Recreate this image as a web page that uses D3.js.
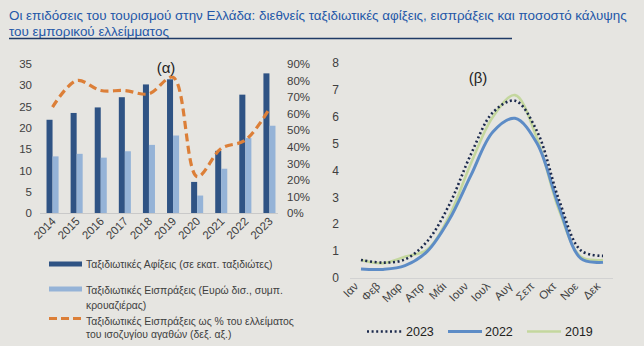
<!DOCTYPE html>
<html><head><meta charset="utf-8">
<script src="https://cdn.jsdelivr.net/npm/d3@7"></script>
<style>
html,body{margin:0;padding:0;background:#e6e5e1;}
svg{display:block;font-family:"Liberation Sans",Arial,sans-serif;}
</style></head>
<body>
<svg id="c" width="644" height="346"></svg>
<script>
// ---- Data ----
const years = ["2014","2015","2016","2017","2018","2019","2020","2021","2022","2023"];
const arrivals = [21.9, 23.5, 24.8, 27.2, 30.2, 31.4, 7.3, 14.6, 27.8, 32.8];
const receipts = [13.3, 13.9, 13.0, 14.5, 16.0, 18.2, 4.1, 10.4, 17.6, 20.5];
const coverage = [0.64, 0.80, 0.74, 0.74, 0.72, 0.82, 0.22, 0.39, 0.44, 0.63];
const leftTicks = [0,5,10,15,20,25,30,35];
const rightTicks = [0,0.1,0.2,0.3,0.4,0.5,0.6,0.7,0.8,0.9];

const months = ["Ιαν","Φεβ","Μαρ","Απρ","Μάι","Ιουν","Ιουλ","Αυγ","Σεπ","Οκτ","Νοε","Δεκ"];
const y2023 = [0.67, 0.57, 0.69, 1.35, 2.7, 4.6, 6.15, 6.58, 5.45, 2.9, 1.02, 0.82];
const y2022 = [0.33, 0.32, 0.46, 0.98, 2.15, 3.82, 5.43, 5.93, 5.0, 2.65, 0.72, 0.58];
const y2019 = [0.67, 0.55, 0.79, 1.05, 2.28, 4.26, 5.99, 6.79, 5.19, 2.52, 0.79, 0.67];
const monthTicks = [0,1,2,3,4,5,6,7,8];

const title1 = "Οι επιδόσεις του τουρισμού στην Ελλάδα: διεθνείς ταξιδιωτικές αφίξεις, εισπράξεις και ποσοστό κάλυψης";
const title2 = "του εμπορικού ελλείμματος";

// ---- Setup ----
const svg = d3.select("#c");
const C = {dark:"#2f5384", light:"#95b3d7", orange:"#dc7f38", text:"#404040",
           s23:"#1c2a4d", s22:"#5d8cc6", s19:"#c4d79e", title:"#2357a8"};

svg.append("rect").attr("width",644).attr("height",346).attr("fill","#e6e5e1");

// Title
svg.append("text").attr("x",9).attr("y",20).attr("fill",C.title).attr("font-size",13.4).text(title1);
svg.append("text").attr("x",9).attr("y",36).attr("fill",C.title).attr("font-size",13.4).text(title2);
svg.append("line").attr("x1",9).attr("x2",512).attr("y1",38.5).attr("y2",38.5)
  .attr("stroke","#1f3a66").attr("stroke-width",1.3);

// ---- Left chart ----
const xb = d3.scaleBand().domain(years).range([40.5,281.5]).paddingInner(0.5).paddingOuter(0.25);
const xs = d3.scaleBand().domain(["a","r"]).range([0,xb.bandwidth()]);
const yL = d3.scaleLinear().domain([0,35]).range([213,64]);
const yR = d3.scaleLinear().domain([0,0.9]).range([213,64]);

const L = svg.append("g");
L.append("line").attr("x1",40).attr("x2",278).attr("y1",yL(0)+0.5).attr("y2",yL(0)+0.5).attr("stroke","#c9c9c9");

L.selectAll(".ba").data(years).join("rect")
  .attr("x",d=>xb(d)+xs("a")).attr("width",xs.bandwidth())
  .attr("y",(d,i)=>yL(arrivals[i])).attr("height",(d,i)=>yL(0)-yL(arrivals[i])).attr("fill",C.dark);
L.selectAll(".br").data(years).join("rect")
  .attr("x",d=>xb(d)+xs("r")).attr("width",xs.bandwidth())
  .attr("y",(d,i)=>yL(receipts[i])).attr("height",(d,i)=>yL(0)-yL(receipts[i])).attr("fill",C.light);

const lineL = d3.line().x((d,i)=>xb(years[i])+xb.bandwidth()/2).y(d=>yR(d)).curve(d3.curveCatmullRom.alpha(0.5));
L.append("path").attr("d",lineL(coverage)).attr("fill","none").attr("stroke",C.orange)
  .attr("stroke-width",3.2).attr("stroke-dasharray","8,4.5");

// Left axis
const axL = L.append("g").attr("transform","translate(32,0)")
  .call(d3.axisLeft(yL).tickValues(leftTicks).tickSize(0).tickPadding(0));
axL.select(".domain").remove();
axL.selectAll("text").attr("font-size",11.5).attr("fill",C.text).attr("font-family","Liberation Sans, Arial, sans-serif");
// Right axis
const axR = L.append("g").attr("transform","translate(287,0)")
  .call(d3.axisRight(yR).tickValues(rightTicks).tickFormat(d3.format(".0%")).tickSize(0).tickPadding(0));
axR.select(".domain").remove();
axR.selectAll("text").attr("font-size",11.5).attr("fill",C.text).attr("font-family","Liberation Sans, Arial, sans-serif");
// Year labels
L.selectAll(".yl").data(years).join("text")
  .attr("transform",d=>`translate(${xb(d)+xb.bandwidth()/2+4},${222}) rotate(-45)`)
  .attr("text-anchor","end").attr("font-size",11.5).attr("fill",C.text).text(d=>d);
L.append("text").attr("x",166).attr("y",73).attr("text-anchor","middle").attr("font-size",15).attr("fill","#222").text("(α)");

// Left legend
const lg = svg.append("g").attr("font-size",10.4).attr("fill",C.text);
lg.append("rect").attr("x",49).attr("y",261.5).attr("width",33).attr("height",5).attr("fill",C.dark);
lg.append("text").attr("x",86).attr("y",268).text("Ταξιδιωτικές Αφίξεις (σε εκατ. ταξιδιώτες)");
lg.append("rect").attr("x",49).attr("y",286.5).attr("width",33).attr("height",5).attr("fill",C.light);
lg.append("text").attr("x",86).attr("y",294).text("Ταξιδιωτικές Εισπράξεις (Ευρώ δισ., συμπ.");
lg.append("text").attr("x",86).attr("y",309).text("κρουαζιέρας)");
lg.append("line").attr("x1",49).attr("x2",82).attr("y1",318.5).attr("y2",318.5)
  .attr("stroke",C.orange).attr("stroke-width",3).attr("stroke-dasharray","8,4");
lg.append("text").attr("x",86).attr("y",325).text("Ταξιδιωτικές Εισπράξεις ως % του ελλείματος");
lg.append("text").attr("x",86).attr("y",338).text("του ισοζυγίου αγαθών (δεξ. αξ.)");

// ---- Right chart ----
const xm = d3.scalePoint().domain(months).range([361,603]);
const ym = d3.scaleLinear().domain([0,8]).range([278,62.5]);
const R = svg.append("g");
R.append("line").attr("x1",350).attr("x2",613).attr("y1",ym(0)+0.5).attr("y2",ym(0)+0.5).attr("stroke","#d2d2d2");
const axM = R.append("g").attr("transform","translate(339,0)")
  .call(d3.axisLeft(ym).tickValues(monthTicks).tickSize(0).tickPadding(0));
axM.select(".domain").remove();
axM.selectAll("text").attr("font-size",12).attr("fill",C.text).attr("font-family","Liberation Sans, Arial, sans-serif");
R.selectAll(".ml").data(months).join("text")
  .attr("transform",d=>`translate(${xm(d)-2},${287}) rotate(-45)`)
  .attr("text-anchor","end").attr("font-size",11.5).attr("fill",C.text).text(d=>d);
R.append("text").attr("x",478).attr("y",83).attr("text-anchor","middle").attr("font-size",15).attr("fill","#222").text("(β)");

const lineM = d3.line().x((d,i)=>xm(months[i])).y(d=>ym(d)).curve(d3.curveCatmullRom.alpha(0.5));
R.append("path").attr("d",lineM(y2019)).attr("fill","none").attr("stroke",C.s19).attr("stroke-width",2.6);
R.append("path").attr("d",lineM(y2022)).attr("fill","none").attr("stroke",C.s22).attr("stroke-width",3);
R.append("path").attr("d",lineM(y2023)).attr("fill","none").attr("stroke",C.s23).attr("stroke-width",2.6).attr("stroke-dasharray","2,2.6");

// Right legend
const lg2 = svg.append("g").attr("font-size",12.5).attr("fill","#222");
lg2.append("line").attr("x1",367).attr("x2",403).attr("y1",331.5).attr("y2",331.5).attr("stroke",C.s23).attr("stroke-width",2.6).attr("stroke-dasharray","2,2.6");
lg2.append("text").attr("x",406).attr("y",336).text("2023");
lg2.append("line").attr("x1",448).attr("x2",482).attr("y1",331.5).attr("y2",331.5).attr("stroke",C.s22).attr("stroke-width",3);
lg2.append("text").attr("x",485).attr("y",336).text("2022");
lg2.append("line").attr("x1",527).attr("x2",561).attr("y1",331.5).attr("y2",331.5).attr("stroke",C.s19).attr("stroke-width",2.6);
lg2.append("text").attr("x",565).attr("y",336).text("2019");
</script>
</body></html>
